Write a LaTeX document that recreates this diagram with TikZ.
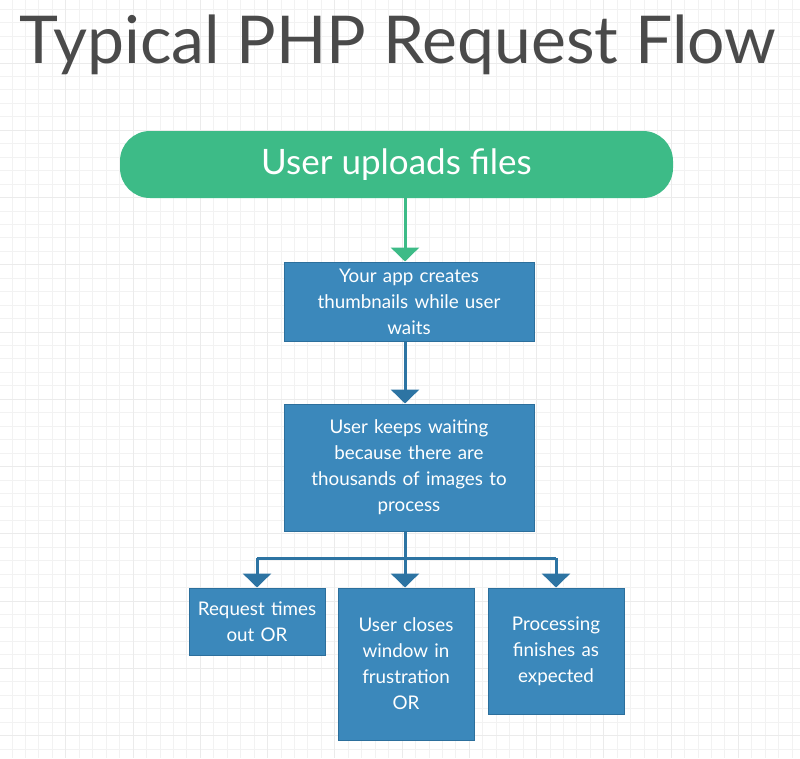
\documentclass[tikz,border=0pt]{standalone}
\usepackage{fontspec}
\setmainfont{Lato}
\usetikzlibrary{arrows.meta}

\definecolor{flowgreen}{HTML}{3DBB87}
\definecolor{flowblue}{HTML}{3B88BB}
\definecolor{flowedge}{HTML}{2C6F9C}
\definecolor{flowarrow}{HTML}{2D74A3}
\definecolor{titlegray}{HTML}{4A4A4A}

\tikzset{
  startbox/.style={fill=flowgreen, draw=none, rounded corners=30pt, text=white,
    font=\fontsize{35}{42}\selectfont, minimum width=553pt, minimum height=67pt},
  stepbox/.style={fill=flowblue, draw=flowedge, line width=1pt, text=white,
    font=\fontsize{18.8}{26}\selectfont, align=center, inner sep=0pt},
  greenflow/.style={draw=flowgreen, line width=3pt, -{Triangle[width=28pt,length=14pt]}},
  blueflow/.style={draw=flowarrow, line width=3pt, -{Triangle[width=28pt,length=14pt]}},
}

\begin{document}
\begin{tikzpicture}[x=1pt, y=-1pt]
    \useasboundingbox (0,0) rectangle (800,758);
    \fill[white] (0,0) rectangle (800,758);

    % Background grid
    \foreach \k in {0,...,60} {
        \draw[black!5, line width=0.8pt] ({-1.5+13.45*\k},0) -- ({-1.5+13.45*\k},758);
        \draw[black!5, line width=0.8pt] (0,{-4.3+13.45*\k}) -- (800,{-4.3+13.45*\k});
    }
    \foreach \k in {0,...,12} {
        \draw[black!8, line width=0.8pt] ({-1.5+67.25*\k},0) -- ({-1.5+67.25*\k},758);
        \draw[black!8, line width=0.8pt] (0,{-4.3+67.25*\k}) -- (800,{-4.3+67.25*\k});
    }

    % Title
    \node[text=titlegray, font=\fontsize{66}{72}\selectfont] (title) at (398,45) {Typical PHP Request Flow};

    % Boxes
    \node[startbox] (upload) at (396.5,164.5) {User uploads files};
    \node[stepbox, minimum width=250pt, minimum height=79pt, text width=230pt] (thumbs) at (409,301.5)
        {Your app creates\\thumbnails while user\\waits};
    \node[stepbox, minimum width=250pt, minimum height=127pt, text width=230pt] (waiting) at (409,467.5)
        {User keeps waiting\\because there are\\thousands of images to\\process};
    \node[stepbox, minimum width=136pt, minimum height=67pt, text width=130pt] (timeout) at (257,621.5)
        {Request times\\out OR};
    \node[stepbox, minimum width=136pt, minimum height=152pt, text width=130pt] (closes) at (406,664)
        {User closes\\window in\\frustration\\OR};
    \node[stepbox, minimum width=136pt, minimum height=126pt, text width=130pt] (finishes) at (556,651)
        {Processing\\finishes as\\expected};

    % Connectors
    \coordinate (spine) at (405,0);
    \coordinate (fork) at (405,558);
    \draw[greenflow] (upload.south -| spine) -- (thumbs.north -| spine);
    \draw[blueflow] (thumbs.south -| spine) -- (waiting.north -| spine);
    \draw[draw=flowarrow, line width=3pt] (waiting.south -| spine) -- (fork);
    \draw[draw=flowarrow, line width=3pt] (fork -| timeout) -- (fork -| finishes);
    \draw[blueflow] (fork -| timeout) -- (timeout.north);
    \draw[blueflow] (fork) -- (closes.north -| spine);
    \draw[blueflow] (fork -| finishes) -- (finishes.north);
\end{tikzpicture}
\end{document}
